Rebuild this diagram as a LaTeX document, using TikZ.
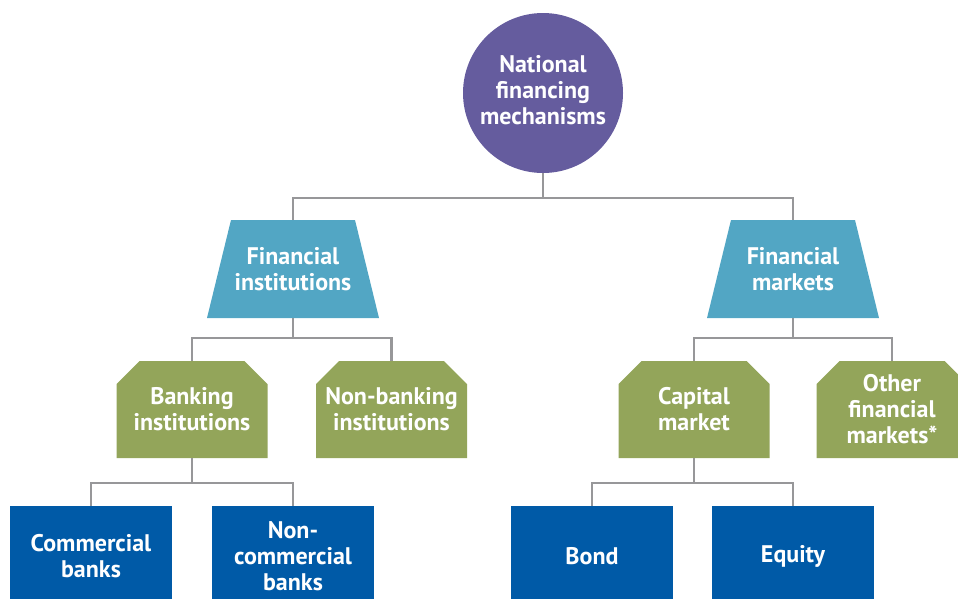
\documentclass[tikz,border=0pt]{standalone}
\usepackage{fontspec}
\setmainfont{PT Sans}
\usetikzlibrary{calc,backgrounds}
\definecolor{cpurple}{RGB}{101,92,158}
\definecolor{cteal}{RGB}{82,166,196}
\definecolor{cgreen}{RGB}{147,165,90}
\definecolor{cblue}{RGB}{0,90,167}
\definecolor{cline}{RGB}{151,151,153}
\tikzset{
  base/.style={text=white, font=\bfseries\fontsize{24}{26}\selectfont, align=center, inner sep=0pt, outer sep=0pt},
  topc/.style={base, circle, fill=cpurple, minimum size=160pt},
  trap/.style={base, rectangle, minimum width=172pt, minimum height=98pt},
  cham/.style={base, rectangle, minimum width=151pt, minimum height=97pt},
  leaf/.style={base, rectangle, fill=cblue, minimum width=162pt, minimum height=100pt},
  conn/.style={draw=cline, line width=2.6pt}
}
\newcommand{\trapfill}[1]{\fill[cteal] ($(#1.south west)$) -- ($(#1.north west)+(24,0)$) -- ($(#1.north east)+(-24,0)$) -- ($(#1.south east)$) -- cycle;}
\newcommand{\chamfill}[1]{\fill[cgreen] ($(#1.south west)$) -- ($(#1.north west)+(0,23)$) -- ($(#1.north west)+(23,0)$) -- ($(#1.north east)+(-23,0)$) -- ($(#1.north east)+(0,23)$) -- ($(#1.south east)$) -- cycle;}
\begin{document}
\begin{tikzpicture}[x=1pt,y=-1pt]
\useasboundingbox (0,0) rectangle (958,598);
\clip (0,0) rectangle (958,598);
\node[topc] (nat) at (543,93) {};
\node[base] (natt) at (543,90) {National\\financing\\mechanisms};
\node[trap] (fi) at (293,269) {Financial\\institutions};
\node[trap] (fm) at (793,269) {Financial\\markets};
\node[cham] (bi) at (192,409.5) {Banking\\institutions};
\node[cham] (nbi) at (391.5,409.5) {Non-banking\\institutions};
\node[cham] (cm) at (694,409.5) {Capital\\market};
\node[cham] (ofm) at (892,409.5) {Other\\financial\\markets*};
\node[leaf] (cb) at (91,556) {Commercial\\banks};
\node[leaf] (ncb) at (293,556) {Non-\\commercial\\banks};
\node[leaf] (bond) at (592,556) {Bond};
\node[leaf] (eq) at (793,556) {Equity};
\begin{scope}[on background layer]
\trapfill{fi}
\trapfill{fm}
\chamfill{bi}
\chamfill{nbi}
\chamfill{cm}
\chamfill{ofm}
\end{scope}
\coordinate (b1) at ($(nat.south)+(0,25)$);
\coordinate (b2) at ($(fi.south)+(0,20)$);
\coordinate (b3) at ($(fm.south)+(0,20)$);
\coordinate (b4) at ($(bi.south)+(0,25)$);
\coordinate (b5) at ($(cm.south)+(0,25)$);
\draw[conn] (nat.south) -- (b1);
\draw[conn] (fi.north) |- (b1) -| (fm.north);
\draw[conn] (fi.south) -- (b2);
\draw[conn] (bi.north) |- (b2) -| (nbi.north);
\draw[conn] (fm.south) -- (b3);
\draw[conn] (cm.north) |- (b3) -| (ofm.north);
\draw[conn] (bi.south) -- (b4);
\draw[conn] (cb.north) |- (b4) -| (ncb.north);
\draw[conn] (cm.south) -- (b5);
\draw[conn] (bond.north) |- (b5) -| (eq.north);
\end{tikzpicture}
\end{document}
